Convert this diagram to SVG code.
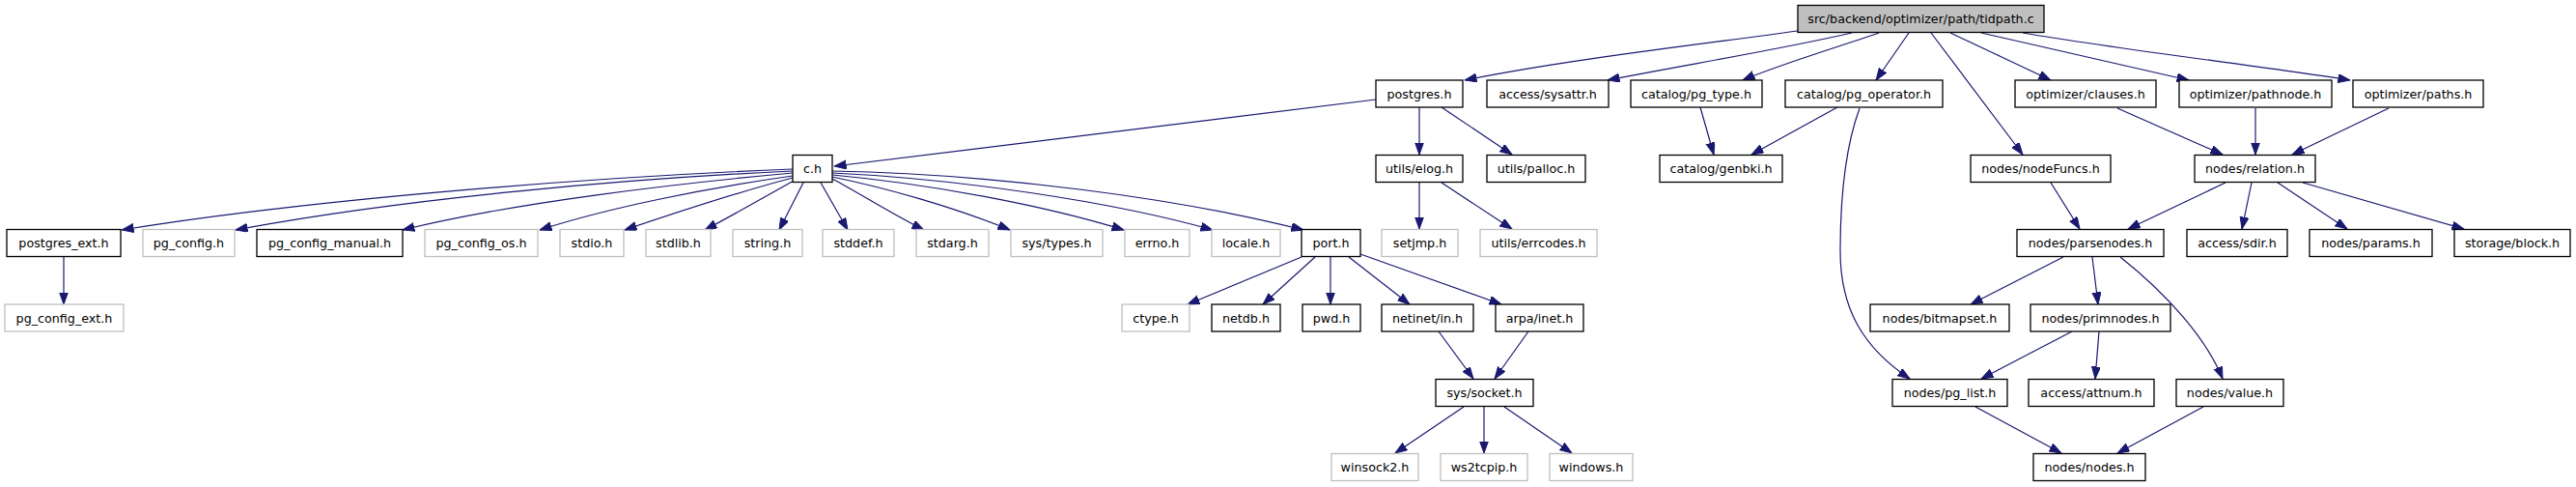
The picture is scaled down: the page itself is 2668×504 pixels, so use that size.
<svg xmlns="http://www.w3.org/2000/svg" width="2668" height="504" viewBox="0 0 2668 504">
<style>
.n rect{fill:#ffffff;stroke:#000000;stroke-width:1.3}
.g rect{fill:#ffffff;stroke:#bfbfbf;stroke-width:1.3}
.r rect{fill:#bfbfbf;stroke:#000000;stroke-width:1.3}
text{font-family:"DejaVu Sans","Liberation Sans",sans-serif;font-size:12.7px;text-anchor:middle;fill:#000000}
#edges path{fill:none;stroke:#191970;stroke-width:1.2;marker-end:url(#arr)}
</style>
<defs>
<marker id="arr" markerUnits="userSpaceOnUse" markerWidth="13" markerHeight="10" refX="12.5" refY="4.5" orient="auto">
<path d="M0,0 L12.5,4.5 L0,9 z" fill="#191970" stroke="#191970" stroke-width="1"/>
</marker>
</defs>
<rect width="2668" height="504" fill="#ffffff"/>
<g id="edges">
<path d="M1862,32 C1760,46 1620,62 1517,83"/>
<path d="M1918,34 C1840,52 1740,68 1665,83"/>
<path d="M1946,34 C1900,50 1845,66 1805,83"/>
<path d="M1977,34 L1943,83"/>
<path d="M2000,34 L2095,160"/>
<path d="M2020,34 L2124,83"/>
<path d="M2052,34 L2267,83"/>
<path d="M2095,34 C2200,52 2340,68 2434,83"/>
<path d="M1425,103 L864,172"/>
<path d="M1470,111 L1470,160"/>
<path d="M1493,111 L1566,160"/>
<path d="M1761,111 L1775,160"/>
<path d="M1903,111 L1814,160"/>
<path d="M1926,112 C1912,150 1906,200 1906,260 C1906,320 1930,360 1978,392"/>
<path d="M2124,189 L2154,237"/>
<path d="M2193,112 L2302,160"/>
<path d="M2336,112 L2336,160"/>
<path d="M2474,112 L2374,160"/>
<path d="M2305,189 L2204,237"/>
<path d="M2332,189 L2322,237"/>
<path d="M2359,189 L2431,237"/>
<path d="M2385,189 L2552,237"/>
<path d="M2137,266 L2041,315"/>
<path d="M2167,266 L2173,315"/>
<path d="M2196,266 C2245,305 2285,350 2302,392"/>
<path d="M2146,343 L2052,392"/>
<path d="M2174,343 L2170,392"/>
<path d="M2046,421 L2135,469"/>
<path d="M2282,421 L2193,469"/>
<path d="M821,175 C620,183 330,205 126,238"/>
<path d="M821,177 C650,185 420,205 244,238"/>
<path d="M821,179 C700,190 530,210 417,238"/>
<path d="M821,182 C730,195 630,215 559,238"/>
<path d="M821,184 C760,200 700,220 647,238"/>
<path d="M822,187 C790,205 760,222 730,238"/>
<path d="M832,189 L807,238"/>
<path d="M850,189 L878,238"/>
<path d="M862,185 C890,200 925,222 957,238"/>
<path d="M862,183 C920,195 990,215 1046,238"/>
<path d="M862,181 C960,190 1080,212 1164,238"/>
<path d="M862,179 C990,185 1150,208 1256,238"/>
<path d="M862,177 C1030,180 1220,205 1350,238"/>
<path d="M66,266 L66,315"/>
<path d="M1470,189 L1470,237"/>
<path d="M1493,189 L1566,237"/>
<path d="M1348,266 L1230,315"/>
<path d="M1362,266 L1308,315"/>
<path d="M1378,266 L1378,315"/>
<path d="M1397,266 L1460,315"/>
<path d="M1409,263 L1555,315"/>
<path d="M1490,343 L1526,392"/>
<path d="M1583,343 L1548,392"/>
<path d="M1516,421 L1445,469"/>
<path d="M1537,421 L1537,469"/>
<path d="M1558,421 L1628,469"/>
</g>
<g id="root" class="r"><rect x="1862" y="5.5" width="255" height="28"/><text x="1989.5" y="24">src/backend/optimizer/path/tidpath.c</text></g>
<g id="postgres_h" class="n"><rect x="1425" y="83" width="90" height="28"/><text x="1470" y="101.5">postgres.h</text></g>
<g id="access_sysattr_h" class="n"><rect x="1540" y="83" width="126" height="28"/><text x="1603" y="101.5">access/sysattr.h</text></g>
<g id="catalog_pg_type_h" class="n"><rect x="1689" y="83" width="136" height="28"/><text x="1757" y="101.5">catalog/pg_type.h</text></g>
<g id="catalog_pg_operator_h" class="n"><rect x="1849" y="83" width="163" height="28"/><text x="1930.5" y="101.5">catalog/pg_operator.h</text></g>
<g id="optimizer_clauses_h" class="n"><rect x="2087" y="83" width="146" height="28"/><text x="2160" y="101.5">optimizer/clauses.h</text></g>
<g id="optimizer_pathnode_h" class="n"><rect x="2257" y="83" width="158" height="28"/><text x="2336" y="101.5">optimizer/pathnode.h</text></g>
<g id="optimizer_paths_h" class="n"><rect x="2437" y="83" width="135" height="28"/><text x="2504.5" y="101.5">optimizer/paths.h</text></g>
<g id="c_h" class="n"><rect x="821" y="160.5" width="41" height="28"/><text x="841.5" y="179">c.h</text></g>
<g id="utils_elog_h" class="n"><rect x="1425" y="160.5" width="90" height="28"/><text x="1470" y="179">utils/elog.h</text></g>
<g id="utils_palloc_h" class="n"><rect x="1540" y="160.5" width="102" height="28"/><text x="1591" y="179">utils/palloc.h</text></g>
<g id="catalog_genbki_h" class="n"><rect x="1719" y="160.5" width="127" height="28"/><text x="1782.5" y="179">catalog/genbki.h</text></g>
<g id="nodes_nodeFuncs_h" class="n"><rect x="2041" y="160.5" width="145" height="28"/><text x="2113.5" y="179">nodes/nodeFuncs.h</text></g>
<g id="nodes_relation_h" class="n"><rect x="2273" y="160.5" width="125" height="28"/><text x="2335.5" y="179">nodes/relation.h</text></g>
<g id="postgres_ext_h" class="n"><rect x="7" y="237.5" width="118" height="28"/><text x="66" y="256">postgres_ext.h</text></g>
<g id="pg_config_h" class="g"><rect x="148" y="237.5" width="95" height="28"/><text x="195.5" y="256">pg_config.h</text></g>
<g id="pg_config_manual_h" class="n"><rect x="266" y="237.5" width="151" height="28"/><text x="341.5" y="256">pg_config_manual.h</text></g>
<g id="pg_config_os_h" class="g"><rect x="440" y="237.5" width="117" height="28"/><text x="498.5" y="256">pg_config_os.h</text></g>
<g id="stdio_h" class="g"><rect x="580" y="237.5" width="66" height="28"/><text x="613" y="256">stdio.h</text></g>
<g id="stdlib_h" class="g"><rect x="669" y="237.5" width="67" height="28"/><text x="702.5" y="256">stdlib.h</text></g>
<g id="string_h" class="g"><rect x="759" y="237.5" width="72" height="28"/><text x="795" y="256">string.h</text></g>
<g id="stddef_h" class="g"><rect x="852" y="237.5" width="74" height="28"/><text x="889" y="256">stddef.h</text></g>
<g id="stdarg_h" class="g"><rect x="949" y="237.5" width="75" height="28"/><text x="986.5" y="256">stdarg.h</text></g>
<g id="sys_types_h" class="g"><rect x="1047" y="237.5" width="95" height="28"/><text x="1094.5" y="256">sys/types.h</text></g>
<g id="errno_h" class="g"><rect x="1165" y="237.5" width="67" height="28"/><text x="1198.5" y="256">errno.h</text></g>
<g id="locale_h" class="g"><rect x="1255" y="237.5" width="71" height="28"/><text x="1290.5" y="256">locale.h</text></g>
<g id="port_h" class="n"><rect x="1348" y="237.5" width="61" height="28"/><text x="1378.5" y="256">port.h</text></g>
<g id="setjmp_h" class="g"><rect x="1431" y="237.5" width="79" height="28"/><text x="1470.5" y="256">setjmp.h</text></g>
<g id="utils_errcodes_h" class="g"><rect x="1533" y="237.5" width="121" height="28"/><text x="1593.5" y="256">utils/errcodes.h</text></g>
<g id="nodes_parsenodes_h" class="n"><rect x="2089" y="237.5" width="152" height="28"/><text x="2165" y="256">nodes/parsenodes.h</text></g>
<g id="access_sdir_h" class="n"><rect x="2265" y="237.5" width="104" height="28"/><text x="2317" y="256">access/sdir.h</text></g>
<g id="nodes_params_h" class="n"><rect x="2392" y="237.5" width="127" height="28"/><text x="2455.5" y="256">nodes/params.h</text></g>
<g id="storage_block_h" class="n"><rect x="2542" y="237.5" width="120" height="28"/><text x="2602" y="256">storage/block.h</text></g>
<g id="pg_config_ext_h" class="g"><rect x="5" y="315" width="123" height="28"/><text x="66.5" y="333.5">pg_config_ext.h</text></g>
<g id="ctype_h" class="g"><rect x="1162" y="315" width="70" height="28"/><text x="1197" y="333.5">ctype.h</text></g>
<g id="netdb_h" class="n"><rect x="1255" y="315" width="71" height="28"/><text x="1290.5" y="333.5">netdb.h</text></g>
<g id="pwd_h" class="n"><rect x="1349" y="315" width="60" height="28"/><text x="1379" y="333.5">pwd.h</text></g>
<g id="netinet_in_h" class="n"><rect x="1431" y="315" width="95" height="28"/><text x="1478.5" y="333.5">netinet/in.h</text></g>
<g id="arpa_inet_h" class="n"><rect x="1549" y="315" width="91" height="28"/><text x="1594.5" y="333.5">arpa/inet.h</text></g>
<g id="nodes_bitmapset_h" class="n"><rect x="1937" y="315" width="144" height="28"/><text x="2009" y="333.5">nodes/bitmapset.h</text></g>
<g id="nodes_primnodes_h" class="n"><rect x="2103" y="315" width="145" height="28"/><text x="2175.5" y="333.5">nodes/primnodes.h</text></g>
<g id="sys_socket_h" class="n"><rect x="1487" y="392.5" width="101" height="28"/><text x="1537.5" y="411">sys/socket.h</text></g>
<g id="nodes_pg_list_h" class="n"><rect x="1960" y="392.5" width="119" height="28"/><text x="2019.5" y="411">nodes/pg_list.h</text></g>
<g id="access_attnum_h" class="n"><rect x="2101" y="392.5" width="130" height="28"/><text x="2166" y="411">access/attnum.h</text></g>
<g id="nodes_value_h" class="n"><rect x="2254" y="392.5" width="111" height="28"/><text x="2309.5" y="411">nodes/value.h</text></g>
<g id="winsock2_h" class="g"><rect x="1379" y="469.5" width="90" height="28"/><text x="1424" y="488">winsock2.h</text></g>
<g id="ws2tcpip_h" class="g"><rect x="1492" y="469.5" width="90" height="28"/><text x="1537" y="488">ws2tcpip.h</text></g>
<g id="windows_h" class="g"><rect x="1605" y="469.5" width="86" height="28"/><text x="1648" y="488">windows.h</text></g>
<g id="nodes_nodes_h" class="n"><rect x="2106" y="469.5" width="116" height="28"/><text x="2164" y="488">nodes/nodes.h</text></g>
</svg>
